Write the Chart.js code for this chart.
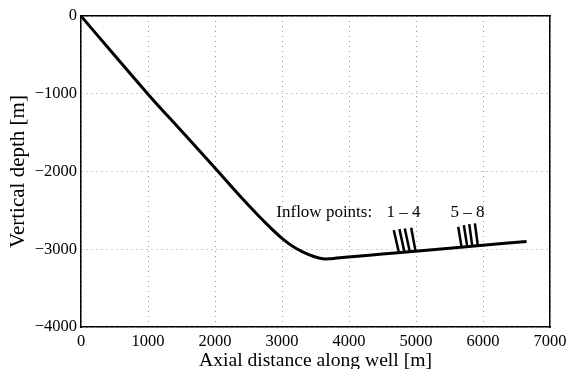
<!DOCTYPE html>
<html>
<head>
<meta charset="utf-8">
<script src="https://cdn.jsdelivr.net/npm/chart.js@4/dist/chart.umd.min.js"></script>
<style>
  html, body { margin: 0; padding: 0; background: #fff; }
  #wrap { width: 568px; height: 369px; }
</style>
</head>
<body>
<div id="wrap"><canvas id="wellChart"></canvas></div>
<script>
// well trajectory
const wellX = [0, 500, 1000, 1500, 2000, 2400, 2800, 3000, 3200, 3400, 3550, 3650, 3900, 4500, 5500, 6650];
const wellY = [0, -505, -1005, -1480, -1955, -2340, -2700, -2860, -2985, -3070, -3112, -3125, -3106, -3061, -2986, -2900];

// inflow point markers (bottom on the well, top above it)
const inflowBaseX = [4745, 4828, 4908, 4993, 5680, 5765, 5840, 5923];
const inflowBaseY = [-3043, -3037, -3031, -3024, -2973, -2966, -2961, -2955];
const inflowTopX = [4668, 4753, 4832, 4928, 5630, 5714, 5795, 5879];
const inflowTopY = [-2754, -2741, -2732, -2724, -2711, -2690, -2677, -2668];

const xTicks = [0, 1000, 2000, 3000, 4000, 5000, 6000, 7000];
const yTicks = [0, -1000, -2000, -3000, -4000];

const noteText = ['Inflow points:', '1 \u2013 4', '5 \u2013 8'];
const noteX = [2915, 4813, 5770];
const noteY = [-2522, -2522, -2522];
const noteAlign = ['left', 'center', 'center'];

const serif = '"Liberation Serif", "Times New Roman", serif';

const datasets = [{
    data: wellX.map((x, i) => ({x: x, y: wellY[i]})),
    borderColor: '#000',
    borderWidth: 3,
    pointRadius: 0,
    cubicInterpolationMode: 'monotone',
    fill: false
}];
inflowBaseX.forEach((x, i) => {
    datasets.push({
        data: [{x: x, y: inflowBaseY[i]}, {x: inflowTopX[i], y: inflowTopY[i]}],
        borderColor: '#000',
        borderWidth: 2.5,
        pointRadius: 0,
        fill: false
    });
});

const notesPlugin = {
    id: 'notes',
    afterDatasetsDraw(chart) {
        const ctx = chart.ctx;
        const xs = chart.scales.x, ys = chart.scales.y;
        ctx.save();
        ctx.fillStyle = '#000';
        ctx.font = '17px ' + serif;
        ctx.textBaseline = 'middle';
        noteText.forEach((t, i) => {
            ctx.textAlign = noteAlign[i];
            ctx.fillText(t, xs.getPixelForValue(noteX[i]), ys.getPixelForValue(noteY[i]));
        });
        ctx.restore();
    }
};

// pin axis sizes so the plot box lands where the reference has it
function fixSize(w, h) {
    return function (axis) {
        if (w !== null) axis.width = w;
        if (h !== null) axis.height = h;
        axis.paddingLeft = 0;
        axis.paddingRight = 0;
        axis.paddingTop = 0;
        axis.paddingBottom = 0;
    };
}

const minus = v => (v < 0 ? '\u2212' + Math.abs(v) : String(v));

new Chart(document.getElementById('wellChart'), {
    type: 'line',
    data: { datasets: datasets },
    plugins: [notesPlugin],
    options: {
        responsive: true,
        maintainAspectRatio: false,
        animation: false,
        layout: { padding: { top: 16, right: 18, left: 0, bottom: 0 } },
        plugins: { legend: { display: false }, tooltip: { enabled: false } },
        scales: {
            x: {
                type: 'linear',
                position: 'bottom',
                min: 0, max: 7000,
                afterBuildTicks: axis => { axis.ticks = xTicks.map(v => ({value: v})); },
                afterFit: fixSize(null, 42),
                grid: { color: '#9a9a9a', lineWidth: 1, drawTicks: false },
                border: { color: '#000', width: 1.5, dash: [1, 4] },
                ticks: { color: '#000', padding: 5, maxRotation: 0, font: { family: serif, size: 16.5 }, callback: minus },
                title: { display: true, text: 'Axial distance along well [m]', color: '#000', padding: { top: 0, bottom: -2 }, font: { family: serif, size: 19.6, lineHeight: 1 } }
            },
            y: {
                type: 'linear',
                position: 'left',
                min: -4000, max: 0,
                afterBuildTicks: axis => { axis.ticks = yTicks.map(v => ({value: v})); },
                afterFit: fixSize(81, null),
                grid: { color: '#9a9a9a', lineWidth: 1, drawTicks: false },
                border: { color: '#000', width: 1.5, dash: [1, 4] },
                ticks: { color: '#000', padding: 4, font: { family: serif, size: 16.5 }, callback: minus },
                title: { display: true, text: 'Vertical depth [m]', color: '#000', padding: { top: 8, bottom: 0 }, font: { family: serif, size: 21, lineHeight: 1 } }
            },
            x2: {
                type: 'linear',
                position: 'top',
                min: 0, max: 7000,
                afterFit: fixSize(null, 0),
                grid: { display: false },
                border: { color: '#000', width: 1.5 },
                ticks: { display: false }
            },
            y2: {
                type: 'linear',
                position: 'right',
                min: -4000, max: 0,
                afterFit: fixSize(0, null),
                grid: { display: false },
                border: { color: '#000', width: 1.5 },
                ticks: { display: false }
            }
        }
    }
});
</script>
</body>
</html>
